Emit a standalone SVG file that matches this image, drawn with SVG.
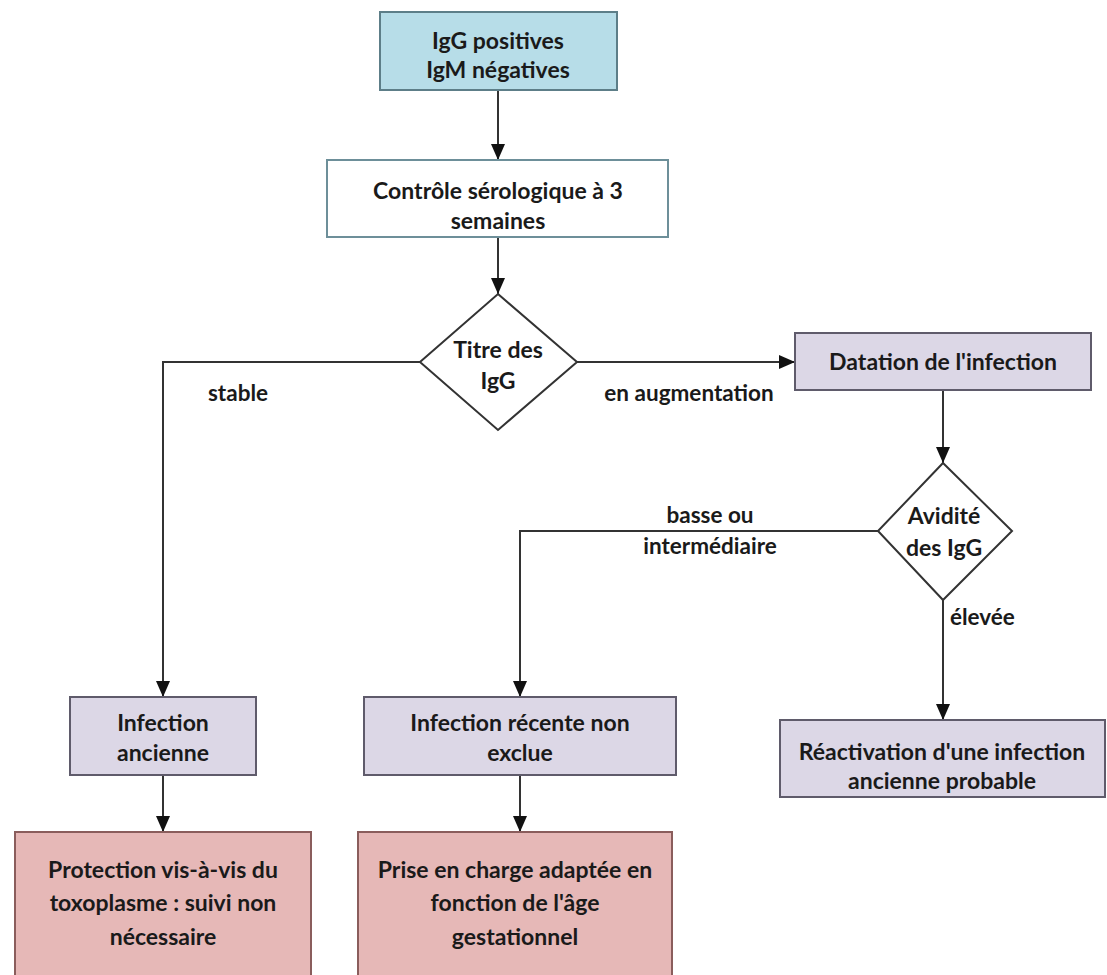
<svg xmlns="http://www.w3.org/2000/svg" width="1107" height="975" viewBox="0 0 1107 975">
<defs>
<style>
.t{font-family:Lato,"Open Sans","Liberation Sans",sans-serif;font-weight:bold;font-size:23px;fill:#1a1a1a;text-anchor:middle;}
.l{font-family:Lato,"Open Sans","Liberation Sans",sans-serif;font-weight:bold;font-size:22.5px;fill:#1a1a1a;}
.blue{fill:#b7dde8;stroke:#5d7e88;stroke-width:2;}
.white{fill:#ffffff;stroke:#6d8f99;stroke-width:2;}
.purple{fill:#dcd7e6;stroke:#5f5b6b;stroke-width:2;}
.pink{fill:#e6b8b7;stroke:#8a5d5c;stroke-width:2;}
.dia{fill:#ffffff;stroke:#333333;stroke-width:2;}
.c{fill:none;stroke:#333333;stroke-width:2;marker-end:url(#ah);}
</style>
<marker id="ah" viewBox="0 0 16 14" refX="16" refY="7" markerWidth="16" markerHeight="14" markerUnits="userSpaceOnUse" orient="auto">
<path d="M0,0 L16,7 L0,14 Z" fill="#111111"/>
</marker>
</defs>
<rect width="1107" height="975" fill="#ffffff"/>
<g id="connectors">
<path class="c" d="M498,90 V160"/>
<path class="c" d="M498,237 V294"/>
<path class="c" d="M420,362 H163 V697"/>
<path class="c" d="M577,362 H795"/>
<path class="c" d="M943,390 V463"/>
<path class="c" d="M878,531 H520 V697"/>
<path class="c" d="M943,600 V720"/>
<path class="c" d="M163,775 V832"/>
<path class="c" d="M520,775 V832"/>
<text class="l" x="238" y="401" text-anchor="middle">stable</text>
<text class="l" x="689" y="401" text-anchor="middle">en augmentation</text>
<text class="l" x="710" y="523" text-anchor="middle">basse ou</text>
<text class="l" x="710" y="554" text-anchor="middle">intermédiaire</text>
<text class="l" x="950" y="625">élevée</text>
</g>
<g id="n1">
<rect class="blue" x="380" y="12" width="237" height="78"/>
<text class="t" x="498" y="49">IgG positives</text>
<text class="t" x="498" y="78">IgM négatives</text>
</g>
<g id="n2">
<rect class="white" x="327" y="160" width="341" height="77"/>
<text class="t" x="498" y="199">Contrôle sérologique à 3</text>
<text class="t" x="498" y="229">semaines</text>
</g>
<g id="d1">
<polygon class="dia" points="498,294 577,362 498,430 420,362"/>
<text class="t" x="498" y="358">Titre des</text>
<text class="t" x="498" y="389">IgG</text>
</g>
<g id="n3">
<rect class="purple" x="795" y="333" width="296" height="57"/>
<text class="t" x="943" y="370">Datation de l'infection</text>
</g>
<g id="d2">
<polygon class="dia" points="943,463 1012,531 943,600 878,531"/>
<text class="t" x="944" y="524">Avidité</text>
<text class="t" x="944" y="556">des IgG</text>
</g>
<g id="n4">
<rect class="purple" x="70" y="697" width="186" height="78"/>
<text class="t" x="163" y="731">Infection</text>
<text class="t" x="163" y="761">ancienne</text>
</g>
<g id="n5">
<rect class="purple" x="364" y="697" width="312" height="78"/>
<text class="t" x="520" y="731">Infection récente non</text>
<text class="t" x="520" y="761">exclue</text>
</g>
<g id="n6">
<rect class="purple" x="780" y="720" width="325" height="77"/>
<text class="t" x="942" y="760">Réactivation d'une infection</text>
<text class="t" x="942" y="789">ancienne probable</text>
</g>
<g id="n7">
<rect class="pink" x="15" y="832" width="296" height="150"/>
<text class="t" x="163" y="878">Protection vis-à-vis du</text>
<text class="t" x="163" y="911">toxoplasme : suivi non</text>
<text class="t" x="163" y="945">nécessaire</text>
</g>
<g id="n8">
<rect class="pink" x="358" y="832" width="314" height="150"/>
<text class="t" x="515" y="878">Prise en charge adaptée en</text>
<text class="t" x="515" y="911">fonction de l'âge</text>
<text class="t" x="515" y="945">gestationnel</text>
</g>
</svg>
